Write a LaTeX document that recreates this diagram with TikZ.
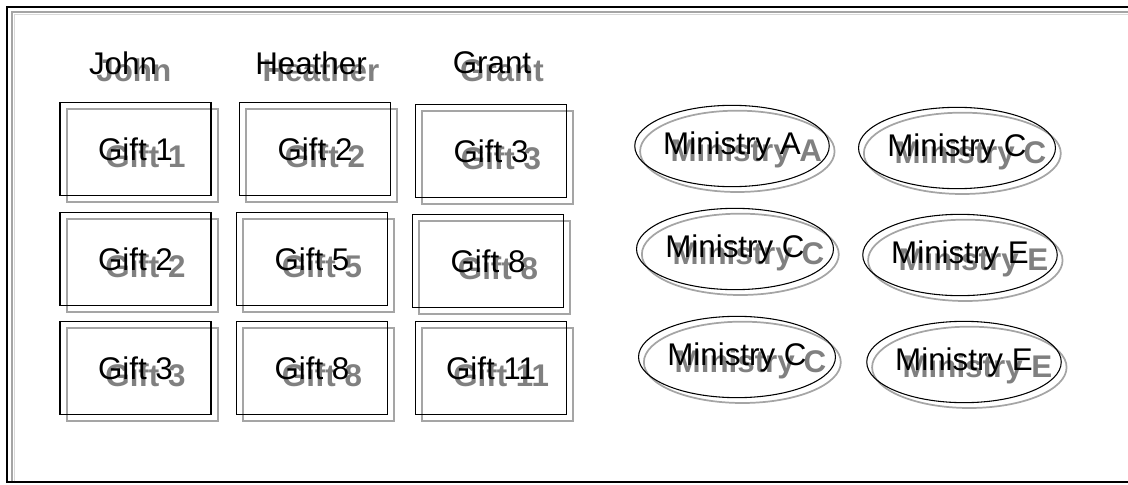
\documentclass[tikz,border=0pt]{standalone}
\usepackage{fontspec}
\setmainfont{Liberation Sans}
\usetikzlibrary{shapes.geometric,shadows}
\definecolor{shadeGray}{RGB}{128,128,128}
\definecolor{edgeGray}{RGB}{165,165,165}
\newcommand{\shtxt}[1]{\leavevmode\makebox[0pt][l]{\raisebox{-5.5pt}[0pt][0pt]{\hspace{5.5pt}\textcolor{shadeGray}{\bfseries #1}}}#1}
\tikzset{
  every node/.style={font=\fontsize{23.5}{28}\selectfont},
  person/.style={inner sep=0pt},
  giftbox/.style={draw=black, line width=1.2pt, minimum width=113pt,
    minimum height=70pt, inner sep=0pt,
    general shadow={draw=edgeGray, line width=1.5pt, shadow xshift=5pt, shadow yshift=-5pt}},
  ministry/.style={ellipse, draw=black, line width=0.8pt, minimum width=145pt,
    minimum height=61pt, inner sep=0pt,
    general shadow={draw=edgeGray, line width=1.3pt, shadow xshift=4pt, shadow yshift=-4pt}}
}

\begin{document}
\begin{tikzpicture}[x=0.75pt, y=-0.75pt]
  \useasboundingbox (0,0) rectangle (1128,485);
  \clip (0,0) rectangle (1128,485);
  % outer frame
  \draw[line width=1.3pt] (7,7) rectangle (1140,482);
  \draw[edgeGray, line width=1.6pt] (12,481) -- (12,12) -- (1140,12);
  \draw[black!15, line width=1.2pt] (14.5,481) -- (14.5,14.5) -- (1140,14.5);

  % people
  \node[person] (john) at (123,63) {\shtxt{John}};
  \node[person] (heather) at (311,63) {\shtxt{Heather}};
  \node[person] (grant) at (492,63) {\shtxt{Grant}};

  % gifts
  \node[giftbox] (john1) at (135.5,149) {\shtxt{Gift 1}};
  \node[giftbox] (john2) at (135.5,259) {\shtxt{Gift 2}};
  \node[giftbox] (john3) at (135.5,368) {\shtxt{Gift 3}};
  \node[giftbox] (heather1) at (315,149) {\shtxt{Gift 2}};
  \node[giftbox] (heather2) at (312,259) {\shtxt{Gift 5}};
  \node[giftbox] (heather3) at (312,368) {\shtxt{Gift 8}};
  \node[giftbox] (grant1) at (491,151) {\shtxt{Gift 3}};
  \node[giftbox] (grant2) at (488,261) {\shtxt{Gift 8}};
  \node[giftbox] (grant3) at (491,368) {\shtxt{Gift 11}};

  % ministries
  \node[ministry] (minA) at (732,146) {\shtxt{Ministry A}};
  \node[ministry] (minC1) at (957,148) {\shtxt{Ministry C}};
  \node[ministry] (minC2) at (735,249) {\shtxt{Ministry C}};
  \node[ministry] (minE1) at (960,255) {\shtxt{Ministry E}};
  \node[ministry] (minC3) at (737,357) {\shtxt{Ministry C}};
  \node[ministry] (minE2) at (964,362) {\shtxt{Ministry E}};
\end{tikzpicture}
\end{document}
